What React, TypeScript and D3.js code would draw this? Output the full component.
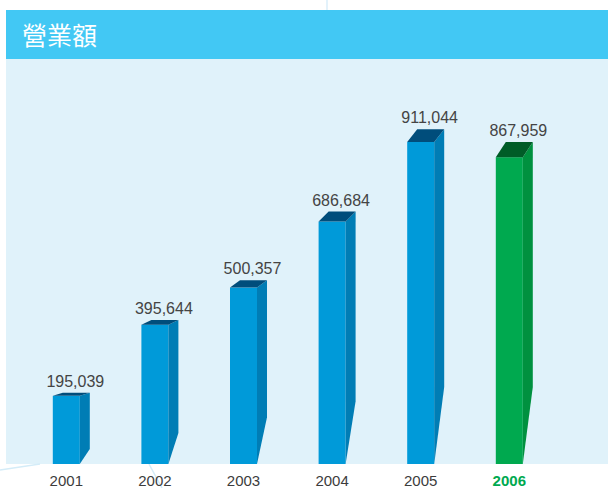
import React from "react";
import * as d3 from "d3";

const years = ["2001", "2002", "2003", "2004", "2005", "2006"];
const revenue = [195039, 395644, 500357, 686684, 911044, 867959];
const highlightYear = "2006";
const title = "營業額";

const W = 608;
const H = 488;
const BASE = 464;

export default function App() {
  const x = d3.scalePoint<string>().domain(years).range([22, 553.6]).padding(0.5);
  const y = d3.scaleLinear().domain([0, 1000000]).range([BASE + 1, BASE + 1 - 354.6]);
  const fmt = d3.format(",");
  const bw = 27;
  const dx = 10;

  return (
    <div style={{ position: "absolute", left: 0, top: 0 }}>
      <svg width={W} height={H} style={{ display: "block" }}>
        <rect x={0} y={0} width={W} height={H} fill="#ffffff" />
        <line x1={327} y1={0} x2={327} y2={10} stroke="#e3f2fb" strokeWidth={2} />
        <rect x={6} y={59} width={W - 6} height={BASE - 59} fill="#e0f2fa" />
        <rect x={6} y={10} width={W - 6} height={49} fill="#42c8f4" />
        <text
          x={22}
          y={45}
          fill="#ffffff"
          fontSize={25}
          fontFamily="'Noto Sans CJK TC', 'Noto Sans CJK SC', sans-serif"
        >
          {title}
        </text>
        <line x1={0} y1={470} x2={40} y2={464} stroke="#d4ecf8" strokeWidth={1.5} />
        <line x1={149} y1={464} x2={162} y2={488} stroke="#d4ecf8" strokeWidth={1.5} />
        {years.map((yr, i) => {
          const v = revenue[i];
          const cx = x(yr) as number;
          const x0 = cx - bw / 2;
          const x1 = cx + bw / 2;
          const top = Math.min(y(v), BASE);
          const dy = Math.max(3, 0.03 * cx);
          const k = Math.min(77, 0.18 * cx + 3);
          const hi = yr === highlightYear;
          const front = hi ? "#00a94f" : "#009ad9";
          const side = hi ? "#00913f" : "#007db5";
          const topC = hi ? "#005c27" : "#004d7b";
          const sidePts = [
            [x1, top],
            [x1 + dx, top - dy],
            [x1 + dx, BASE - k],
            [x1, BASE],
          ];
          const topPts = [
            [x0, top],
            [x0 + dx, top - dy],
            [x1 + dx, top - dy],
            [x1, top],
          ];
          return (
            <g key={yr}>
              <rect x={x0} y={top} width={bw} height={BASE - top} fill={front} />
              <polygon points={sidePts.map((p) => p.join(",")).join(" ")} fill={side} />
              <polygon points={topPts.map((p) => p.join(",")).join(" ")} fill={topC} />
              <text
                x={cx + 9}
                y={top - dy - 6}
                textAnchor="middle"
                fontSize={16}
                fill="#444444"
                fontFamily="'Liberation Sans', Arial, sans-serif"
              >
                {fmt(v)}
              </text>
              <text
                x={cx}
                y={486}
                textAnchor="middle"
                fontSize={15}
                fontWeight={hi ? "bold" : "normal"}
                fill={hi ? "#00a94f" : "#3c3c3c"}
                fontFamily="'Liberation Sans', Arial, sans-serif"
              >
                {yr}
              </text>
            </g>
          );
        })}
      </svg>
    </div>
  );
}
